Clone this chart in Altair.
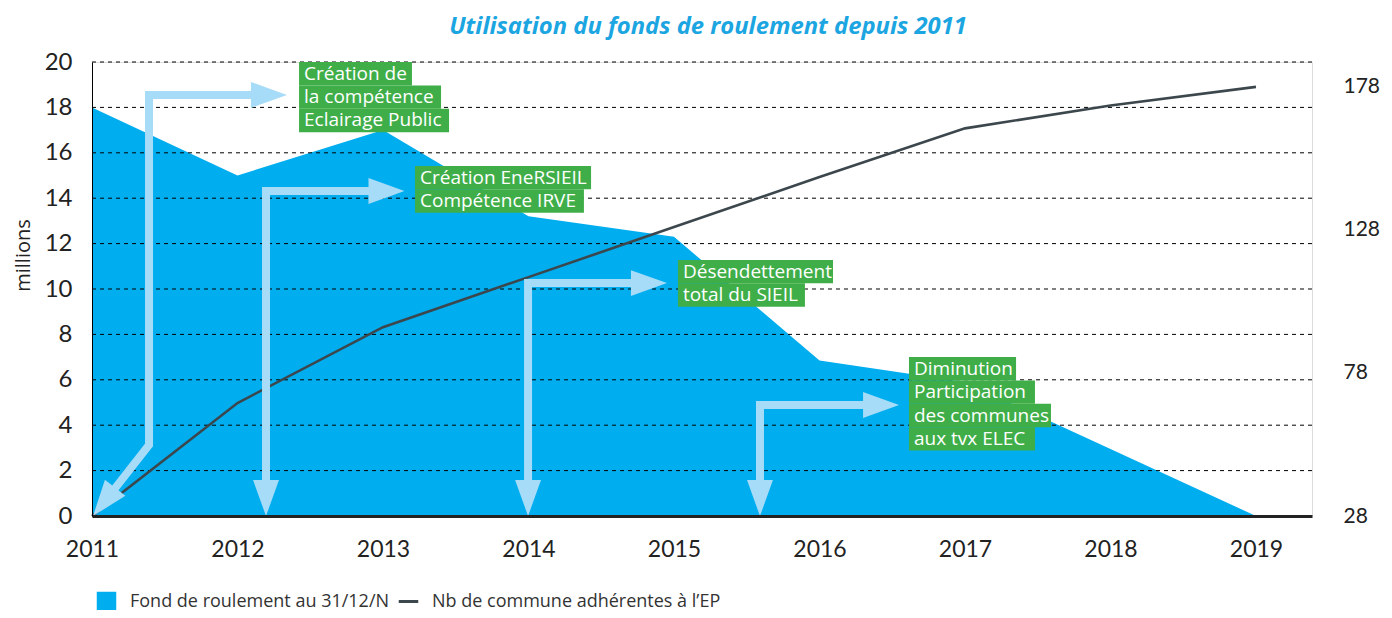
import altair as alt
import pandas as pd

# ---------------- data ----------------
YEARS = [2011, 2012, 2013, 2014, 2015, 2016, 2017, 2018, 2019]
FONDS = [18.0, 15.0, 17.0, 13.2, 12.3, 6.85, 5.9, 2.95, 0.0]          # millions
COMMUNES = [28, 67.5, 94, 111.5, 129, 146.5, 163.5, 171.5, 178]        # nb communes
LEFT_TICKS = [0, 2, 4, 6, 8, 10, 12, 14, 16, 18, 20]
RIGHT_TICKS = [28, 78, 128, 178]
SERIES = ["Fond de roulement au 31/12/N", "Nb de commune adhérentes à l\u2019EP"]
TITLE = "Utilisation du fonds de roulement depuis 2011"

# annotations (data units)
ANNOT_LINES = [
    ["Création de", "la compétence", "Eclairage Public"],
    ["Création EneRSIEIL", "Compétence IRVE"],
    ["Désendettement", "total du SIEIL"],
    ["Diminution", "Participation", "des communes", "aux tvx ELEC"],
]
ANNOT_LEFT = [2012.423, 2013.220, 2015.027, 2016.615]
ANNOT_TOP = [20.0, 15.42, 11.28, 7.0]
ANNOT_RIGHT = [
    [2013.199, 2013.399, 2013.454],
    [2014.430, 2014.381],
    [2016.093, 2015.900],
    [2017.351, 2017.481, 2017.591, 2017.481],
]
LINE_H = 1.03

ARROW_PATHS = [
    [(2012.11, 18.55), (2011.392, 18.55), (2011.392, 3.13), (2011.15, 1.15)],
    [(2012.92, 14.32), (2012.196, 14.32), (2012.196, 1.45)],
    [(2014.72, 10.26), (2013.997, 10.26), (2013.997, 1.45)],
    [(2016.32, 4.89), (2015.591, 4.89), (2015.591, 1.45)],
]
ARROW_HEADS = [
    (2012.216, 18.55, 0), (2011.083, 0.62, 128),
    (2013.024, 14.32, 0), (2012.196, 0.79, 90),
    (2014.828, 10.26, 0), (2013.997, 0.79, 90),
    (2016.423, 4.89, 0), (2015.591, 0.79, 90),
]

# ---------------- styles ----------------
FONT = "Lato"
FONT2 = "Open Sans"
BLUE = "#00adef"
DARK = "#3c474d"
ARROW = "#a6dcf7"
GREEN = "#3fae49"
TXT = "#222222"

df = pd.DataFrame({"year": YEARS, "fonds": FONDS, "communes": COMMUNES,
                   "s1": SERIES[0], "s2": SERIES[1]})
grid_df = pd.DataFrame({"v": LEFT_TICKS[1:]})
title_df = pd.DataFrame({"t": [TITLE]})

shaft_rows = []
for i, path in enumerate(ARROW_PATHS):
    for j, (x, y) in enumerate(path):
        shaft_rows.append({"arrow": i, "ord": j, "x": x, "y": y})
shaft_df = pd.DataFrame(shaft_rows)
head_df = pd.DataFrame([{"x": x, "y": y, "ang": a} for x, y, a in ARROW_HEADS])

box_rows = []
for k, lines in enumerate(ANNOT_LINES):
    for i, t in enumerate(lines):
        top = ANNOT_TOP[k] - i * LINE_H
        box_rows.append({"x": ANNOT_LEFT[k], "x2": ANNOT_RIGHT[k][i],
                         "y": top, "y2": top - LINE_H, "ym": top - LINE_H / 2, "t": t})
box_df = pd.DataFrame(box_rows)

XDOM = [2011, 2019.385]


def X(field):
    return alt.X(field, type="quantitative",
                 scale=alt.Scale(domain=XDOM, nice=False, zero=False),
                 axis=alt.Axis(values=YEARS, format="d", title=None, labelFont=FONT,
                               labelFontSize=23, labelColor=TXT, labelPadding=22,
                               ticks=False, grid=False, domainColor=TXT, domainWidth=3,
                               zindex=1, labelFlush=False))


LEFT_AXIS = alt.Axis(values=LEFT_TICKS, title="millions", orient="left", labelFont=FONT,
                     labelFontSize=24, labelColor=TXT, labelPadding=20, ticks=False,
                     grid=False, domainColor="#000000", domainWidth=1, zindex=1,
                     titleFont=FONT2, titleFontSize=20, titleFontWeight="normal",
                     titleColor=TXT, titleX=-69, titleY=193, titleAngle=270,
                     titleAlign="center", titleBaseline="middle")
YL = alt.Scale(domain=[0, 20], nice=False, zero=False)


def legend(x, sym):
    return alt.Legend(title=None, orient="none", legendX=x, legendY=528,
                      direction="horizontal", labelFont=FONT2, labelFontSize=18,
                      labelColor="#333333", symbolSize=380, labelOffset=12,
                      labelLimit=500, symbolType=sym, symbolStrokeWidth=3,
                      symbolOpacity=1, padding=0)


area = alt.Chart(df).mark_area(opacity=1, line=False).encode(
    x=X("year"),
    y=alt.Y("fonds:Q", scale=YL, axis=LEFT_AXIS),
    fill=alt.Fill("s1:N", scale=alt.Scale(domain=[SERIES[0]], range=[BLUE]),
                  legend=legend(3, "square")),
)

grid = alt.Chart(grid_df).mark_rule(color="#000000", strokeWidth=1, strokeDash=[4, 4]).encode(
    y=alt.Y("v:Q", scale=YL, axis=LEFT_AXIS),
)

bottom = alt.layer(area, grid)

line = alt.Chart(df).mark_line(strokeWidth=2.6).encode(
    x=X("year"),
    y=alt.Y("communes:Q", scale=alt.Scale(domain=[28, 186.7], nice=False, zero=False),
            axis=alt.Axis(values=RIGHT_TICKS, orient="right", title=None, labelFont=FONT,
                          labelFontSize=21, labelColor=TXT, labelPadding=31, ticks=False,
                          grid=False, domain=False)),
    stroke=alt.Stroke("s2:N", scale=alt.Scale(domain=[SERIES[1]], range=[DARK]),
                      legend=legend(305, "stroke")),
)

shafts = alt.Chart(shaft_df).mark_line(color=ARROW, strokeWidth=8, strokeJoin="miter",
                                       strokeCap="butt").encode(
    x=X("x"),
    y=alt.Y("y:Q", scale=YL, axis=None),
    detail="arrow:N",
    order="ord:Q",
)

heads = alt.Chart(head_df).mark_point(
    shape="M-1,-0.72L1,0L-1,0.72Z", size=1296, filled=True, fill=ARROW, opacity=1,
    strokeWidth=0,
).encode(
    x=X("x"),
    y=alt.Y("y:Q", scale=YL, axis=None),
    angle=alt.Angle("ang:Q", scale=None),
)

boxes = alt.Chart(box_df).mark_rect(color=GREEN).encode(
    x=X("x"), x2="x2:Q",
    y=alt.Y("y:Q", scale=YL, axis=None), y2="y2:Q",
)

texts = alt.Chart(box_df).mark_text(align="left", baseline="middle", dx=5, font=FONT2,
                                    fontSize=19, color="#ffffff").encode(
    x=X("x"),
    y=alt.Y("ym:Q", scale=YL, axis=None),
    text="t:N",
)

title = alt.Chart(title_df).mark_text(align="center", baseline="alphabetic", font=FONT2,
                                      fontSize=23.8, fontStyle="italic", fontWeight="bold",
                                      color="#1ba5e1").encode(
    x=alt.value(616), y=alt.value(-28), text="t:N",
)

top = alt.layer(shafts, heads, boxes, texts, title)

chart = alt.layer(bottom, line, top).resolve_scale(y="independent").properties(
    width=1220, height=454,
    autosize=alt.AutoSizeParams(type="none"),
    padding={"left": 84, "top": 54, "right": 72, "bottom": 94},
).configure_view(stroke=None).configure(background="#ffffff")

chart.save("out.html", embed_options={"renderer": "svg", "actions": False})
